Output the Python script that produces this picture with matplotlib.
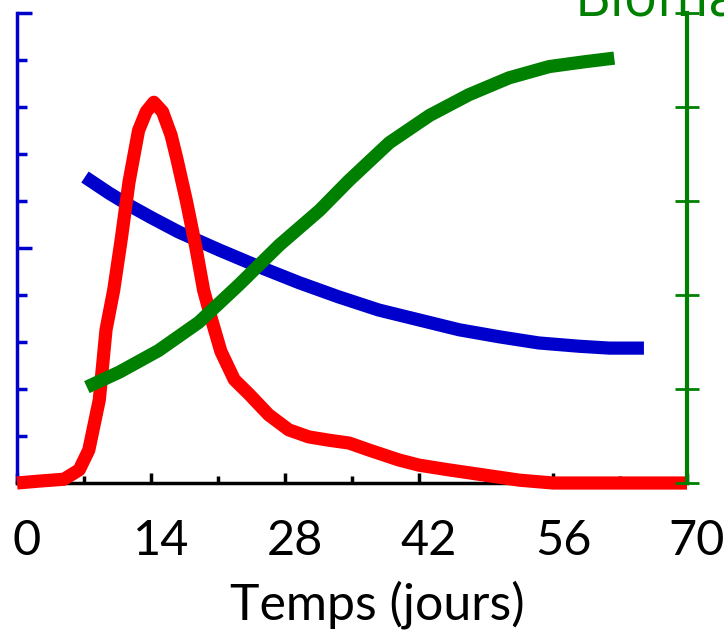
import numpy as np
import matplotlib.pyplot as plt
import matplotlib.transforms as mtransforms

plt.rcParams['font.family'] = ['Lato', 'DejaVu Sans']

# red curve (left axis)
red_t = [0, 2.3, 4.9, 6.5, 7.5, 8.6, 9.3, 10.1, 10.9, 11.7, 12.7, 13.5, 14.3, 15.2,
         16.1, 16.7, 17.7, 18.7, 19.5, 20.3, 21.3, 22.7, 24.2, 26.3, 28.4, 30.5,
         32.6, 34.7, 36.8, 39.9, 42.0, 45.1, 48.8, 52.5, 56.0, 63.0, 70.0]
red_v = [0, 0.04, 0.08, 0.28, 0.7, 1.77, 3.26, 4.1, 5.2, 6.4, 7.5, 7.9, 8.1, 7.9,
         7.4, 6.9, 6.0, 5.0, 4.1, 3.5, 2.8, 2.2, 1.9, 1.45, 1.13, 0.98,
         0.91, 0.85, 0.70, 0.49, 0.38, 0.28, 0.17, 0.06, 0, 0, 0]

# blue curve (left axis)
blue_t = [7.1, 9.6, 11.7, 14.1, 16.9, 21.1, 25.3, 29.5, 33.6, 37.8, 42.0, 46.2,
          50.4, 54.5, 58.7, 61.9, 65.5]
blue_v = [6.51, 6.17, 5.91, 5.64, 5.34, 4.96, 4.6, 4.26, 3.96, 3.68, 3.47, 3.26,
          3.11, 2.98, 2.91, 2.87, 2.87]

# green curve (right axis, biomasse)
green_t = [7.3, 10.7, 14.8, 19.0, 23.2, 27.4, 31.6, 34.7, 38.9, 43.1, 47.2, 51.4,
           55.6, 59.2, 62.4]
green_v = [1.02, 1.18, 1.41, 1.71, 2.11, 2.53, 2.90, 3.22, 3.62, 3.91, 4.13, 4.31,
           4.43, 4.48, 4.52]

xticks = [0, 14, 28, 42, 56, 70]

W, H = 724, 638
fig = plt.figure(figsize=(W / 100, H / 100), dpi=100)
ax = fig.add_axes([17 / W, 1 - 483 / H, 670 / W, 470 / H])
ax2 = ax.twinx()

ax.plot(red_t, red_v, color='#ff0000', lw=9.5, solid_capstyle='butt',
        solid_joinstyle='round', clip_on=False, zorder=3)
ax.plot(blue_t, blue_v, color='#0000cc', lw=9.5, solid_capstyle='butt', zorder=2)
ax2.plot(green_t, green_v, color='#008000', lw=9.5, solid_capstyle='butt', zorder=2)

ax.set_xlim(0, 70)
ax.set_ylim(0, 10)
ax2.set_ylim(0, 5)

for a in (ax, ax2):
    a.spines['top'].set_visible(False)
    a.patch.set_visible(False)
ax.spines['right'].set_visible(False)
ax2.spines['left'].set_visible(False)
ax2.spines['bottom'].set_visible(False)
ax.spines['left'].set_color('#0000cc')
ax.spines['left'].set_linewidth(2.5)
ax.spines['bottom'].set_color('black')
ax.spines['bottom'].set_linewidth(2.5)
ax2.spines['right'].set_color('#008000')
ax2.spines['right'].set_linewidth(3)

ax.set_xticks(xticks)
ax.set_xticks(np.arange(7, 70, 14), minor=True)
ax.tick_params(axis='x', which='major', direction='in', length=7, width=2.5,
               labelsize=35, pad=26)
ax.tick_params(axis='x', which='minor', direction='in', length=5, width=2.5)

ax.set_yticks([0, 5, 10])
ax.set_yticks(np.arange(1, 10), minor=True)
ax.tick_params(axis='y', which='major', direction='in', length=11, width=2.5,
               color='#0000cc', labelleft=False)
ax.tick_params(axis='y', which='minor', direction='in', length=7, width=2.5,
               color='#0000cc')

ax2.set_yticks(np.arange(0, 6))
ax2.tick_params(axis='y', direction='inout', length=17, width=2,
                color='#008000', labelright=False)

# tick labels sit slightly right of their ticks
shift = mtransforms.ScaledTranslation(10 / 100, 0, fig.dpi_scale_trans)
for lab in ax.get_xticklabels():
    lab.set_transform(lab.get_transform() + shift)

fig.text(377 / W, 1 - 605 / H, 'Temps (jours)', fontsize=36,
         ha='center', va='center')
fig.text(575 / W, 1 - 16 / H, 'Biomasse', fontsize=40, color='#008000',
         family=['Open Sans', 'DejaVu Sans'], ha='left', va='baseline')

fig.savefig('out.png', dpi=100)
